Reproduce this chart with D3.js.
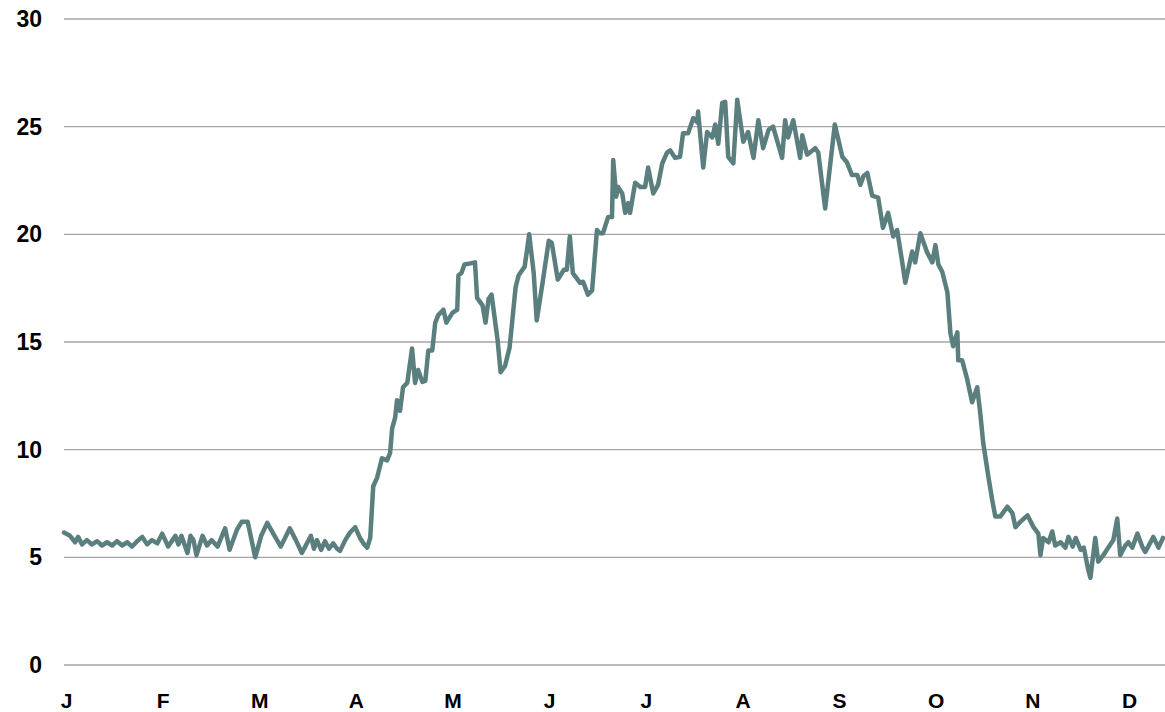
<!DOCTYPE html>
<html><head><meta charset="utf-8">
<script src="https://cdn.jsdelivr.net/npm/d3@7"></script>
<style>html,body{margin:0;padding:0;background:#fff;}svg{display:block;}</style>
</head><body>
<svg id="chart" width="1165" height="712"></svg>
<script>
const monthLabels = ["J","F","M","A","M","J","J","A","S","O","N","D"];
const yTicks = [0,5,10,15,20,25,30];
const days = [0,2,3.7,4.7,6,7.6,9.3,11,12.6,14.3,16,17.6,19.3,21,22.6,24.3,26,27.6,29.2,31,32.6,34.6,37,38,39,41,42,43,44,46,47.5,49,51,53.5,55,57.5,59,61,63.5,65.5,67.5,69.5,72,75,77,79,82,83,84,85.4,86.7,88,89.4,90.7,91.7,93.4,95,96.7,98.3,99.7,100.7,101.7,102.7,104,105.6,107.3,108.3,109,110,110.6,111.6,112.6,114,115.6,116.6,117.6,119,120,121,122.3,123.3,124.3,126,127,129,130.6,131,132,133,135,136.5,137.2,139,140,141,142,144,145,146.5,148,150,151,153,154.5,156,157,159,161,162,164,166,167,168,169,171.4,172.4,174,175.4,177,178,179,180.7,182,182.4,183.4,184,185.4,186.4,187.4,188,189.7,191.4,193,194,195.7,197.3,198.7,200.3,201.3,203,204.6,205.6,207.3,209,210.3,210.6,212.3,213.6,215.3,216.3,217.3,218.6,219.6,220.6,222.3,223.6,225.6,227.2,229,230.6,232.2,234,235.5,238.5,239.5,240.5,242.2,244.5,245.2,246.8,249.5,250.5,252.8,256,258.5,260,261.7,263.5,264.5,265.5,266.8,268.4,270.4,272,273.7,275.4,276.7,278.4,279.4,281.7,282.7,284.4,286.7,288.4,289.4,290.4,291.7,293.4,294.4,295.3,296.7,297,298.3,300,301.6,303.3,304.3,305.3,307,308.3,309.3,311,313.3,315,316,317.6,320,322,323.6,324.3,325.2,327,328.2,329.2,331,332.6,333.6,335,336,337.7,338.7,340.2,340.9,342.5,343.5,345.2,346.8,348.5,349.8,350.8,352.5,353.5,354.8,356.5,358.1,359.1,360.1,361.8,363.5,365];
const values = [6.15,6.0,5.7,5.95,5.6,5.8,5.6,5.75,5.55,5.7,5.55,5.75,5.55,5.7,5.5,5.75,5.95,5.6,5.8,5.65,6.1,5.5,6.0,5.6,6.0,5.2,6.0,5.8,5.1,6.0,5.55,5.8,5.5,6.35,5.35,6.3,6.65,6.65,5.0,6.0,6.6,6.1,5.5,6.35,5.8,5.2,6.0,5.4,5.8,5.35,5.75,5.4,5.65,5.4,5.3,5.8,6.15,6.4,5.9,5.6,5.45,5.9,8.3,8.7,9.6,9.5,9.85,11.0,11.5,12.3,11.8,12.9,13.1,14.7,13.1,13.7,13.15,13.2,14.6,14.6,15.9,16.25,16.5,15.9,16.35,16.5,18.1,18.2,18.6,18.65,18.7,17.05,16.7,15.9,17.0,17.2,15.1,13.6,13.9,14.75,17.55,18.1,18.5,20.0,18.2,16.0,17.8,19.7,19.6,17.9,18.35,18.35,19.9,18.2,17.75,17.8,17.2,17.4,20.2,20.05,20.05,20.8,20.8,23.45,21.75,22.2,21.9,21.0,21.45,21.0,22.4,22.2,22.2,23.1,21.9,22.3,23.3,23.8,23.9,23.55,23.6,24.7,24.7,25.4,25.2,25.7,23.1,24.75,24.5,25.1,24.2,26.1,26.15,23.6,23.3,26.25,24.3,24.75,23.55,25.3,24.0,24.85,25.0,23.55,25.3,24.5,25.3,23.55,24.6,23.7,24.0,23.8,21.2,25.1,23.6,23.35,22.75,22.75,22.3,22.7,22.85,21.8,21.7,20.3,21.0,19.9,20.2,18.7,17.75,19.2,18.7,20.05,19.15,18.7,19.5,18.6,18.25,17.3,15.4,14.8,15.45,14.15,14.15,13.25,12.2,12.9,11.7,10.3,8.75,7.65,6.9,6.9,7.35,7.05,6.4,6.65,6.95,6.4,6.1,5.1,5.9,5.7,6.2,5.55,5.7,5.45,5.95,5.5,5.9,5.35,5.45,4.4,4.05,5.9,4.8,5.1,5.45,5.8,6.8,5.1,5.55,5.7,5.45,6.1,5.5,5.25,5.5,5.95,5.45,5.9];

const svg = d3.select("#chart");
const x = d3.scaleLinear().domain([0,365]).range([64,1163]);
const y = d3.scaleLinear().domain([0,30]).range([665,19]);
const xm = d3.scalePoint().domain(d3.range(monthLabels.length)).range([66,1129]);

// gridlines
svg.append("g").selectAll("line").data(yTicks).join("line")
  .attr("x1",64).attr("x2",1165)
  .attr("y1",d=>y(d)).attr("y2",d=>y(d))
  .attr("stroke","#a6a6a6").attr("stroke-width",1.3);

// y axis labels
const yAxis = d3.axisLeft(y).tickValues(yTicks).tickSize(0).tickPadding(0);
const gy = svg.append("g").attr("transform","translate(42,0)").call(yAxis);
gy.select(".domain").remove();
gy.selectAll("text").attr("font-family","'Liberation Sans', Arial, sans-serif")
  .attr("font-weight","bold").attr("font-size",23).attr("fill","#000");

// x axis labels
const xAxis = d3.axisBottom(xm).tickFormat(i=>monthLabels[i]).tickSize(0).tickPadding(0);
const gx = svg.append("g").attr("transform","translate(0,693)").call(xAxis);
gx.select(".domain").remove();
gx.selectAll("text").attr("font-family","'Liberation Sans', Arial, sans-serif")
  .attr("font-weight","bold").attr("font-size",21).attr("fill","#000");

const data = days.map((d,i)=>({d, v: values[i]}));
const line = d3.line().x(p=>x(p.d)).y(p=>y(p.v));
svg.append("path").datum(data).attr("d",line)
  .attr("fill","none").attr("stroke","#5a7f7e").attr("stroke-width",4.5)
  .attr("stroke-linejoin","round").attr("stroke-linecap","round");
</script>
</body></html>
